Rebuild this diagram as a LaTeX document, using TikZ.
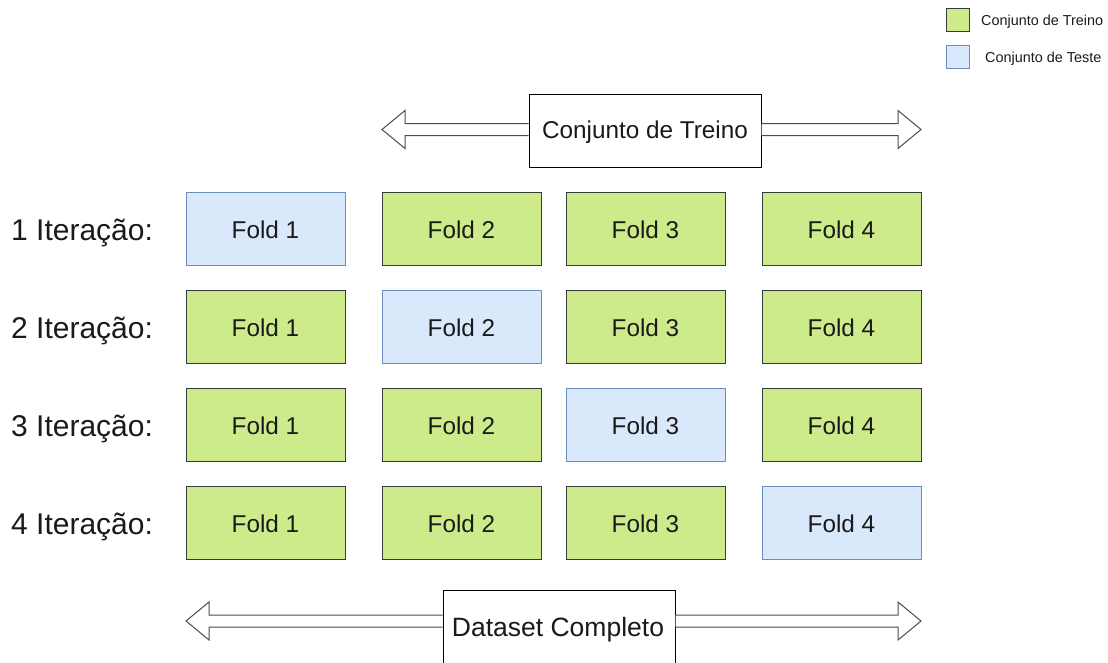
\documentclass[tikz,border=0pt]{standalone}
\usepackage{fontspec}
\setmainfont{Liberation Sans}
\usetikzlibrary{calc}

\definecolor{trainfill}{HTML}{CDEB8B}
\definecolor{trainline}{HTML}{36393D}
\definecolor{testfill}{HTML}{DAE8FC}
\definecolor{testline}{HTML}{6C8EBF}
\definecolor{txt}{HTML}{1A1A1A}

\tikzset{
  fold/.style={minimum width=159pt, minimum height=73pt, inner sep=0pt,
    line width=1pt},
  train/.style={fold, fill=trainfill, draw=trainline},
  test/.style={fold, fill=testfill, draw=testline},
  foldtext/.style={anchor=base, inner sep=0pt, text=txt,
    font=\fontsize{24.3}{28}\selectfont},
  rowlabel/.style={anchor=base west, inner sep=0pt, text=txt,
    font=\fontsize{30}{34}\selectfont},
  spanbox/.style={draw=black, fill=white, line width=1pt, inner sep=0pt},
  hollow/.style={draw=black!70, fill=white, line width=1pt, line join=miter},
  keybox/.style={minimum size=23pt, inner sep=0pt, line width=1pt},
  keytext/.style={anchor=base west, inner sep=0pt, text=txt,
    font=\fontsize{14.4}{17}\selectfont},
}

\begin{document}
\begin{tikzpicture}[x=1pt, y=-1pt]
\useasboundingbox (0,0) rectangle (1108,662);

% legend
\node[keybox, fill=trainfill, draw=trainline] (ktrain) at (958,20) {};
\node[keytext] (ktraintxt) at (981,25.5) {Conjunto de Treino};
\node[keybox, fill=testfill, draw=testline] (ktest) at (958,57) {};
\node[keytext] (ktesttxt) at (985,62.5) {Conjunto de Teste};

% iteration rows
\foreach \r/\y in {1/228.5, 2/326.5, 3/424.5, 4/522.5} {
  \node[rowlabel] (it\r) at (11,\y+12) {\r{} Iteração:};
  \foreach \c/\x in {1/265.5, 2/461.5, 3/645.5, 4/841.5} {
    \ifnum\c=\r
      \node[test] (f\r\c) at (\x,\y) {};
    \else
      \node[train] (f\r\c) at (\x,\y) {};
    \fi
    \node[foldtext] (t\r\c) at ($(f\r\c.center)+(0,9.5)$) {Fold \c};
  }
}

% spanning boxes
\node[spanbox, minimum width=232pt, minimum height=73pt] (tbox) at (645,130.5) {};
\node[foldtext] (ttxt) at ($(tbox.center)+(0,7.5)$) {Conjunto de Treino};
\node[spanbox, minimum width=232pt, minimum height=90pt] (bbox) at (559,635) {};
\node[foldtext, font=\fontsize{26.5}{30}\selectfont] (btxt) at (558,636) {Dataset Completo};

% hollow double arrows (shaft half-height 6, head half-height 19, head length 23)
\coordinate (tl) at (382,129.5);
\coordinate (tr) at (921,129.5);
\coordinate (bl) at (186,621);
\coordinate (br) at (921,621);

\foreach \bx/\tip/\s/\side in {tbox/tl/-1/west, tbox/tr/1/east, bbox/bl/-1/west, bbox/br/1/east} {
  \draw[hollow]
    ($(\bx.\side |- \tip)+(0,-6)$)
    -- ($(\tip)+(-23*\s,-6)$) -- ($(\tip)+(-23*\s,-19)$)
    -- (\tip)
    -- ($(\tip)+(-23*\s,19)$) -- ($(\tip)+(-23*\s,6)$)
    -- ($(\bx.\side |- \tip)+(0,6)$);
}
\end{tikzpicture}
\end{document}
